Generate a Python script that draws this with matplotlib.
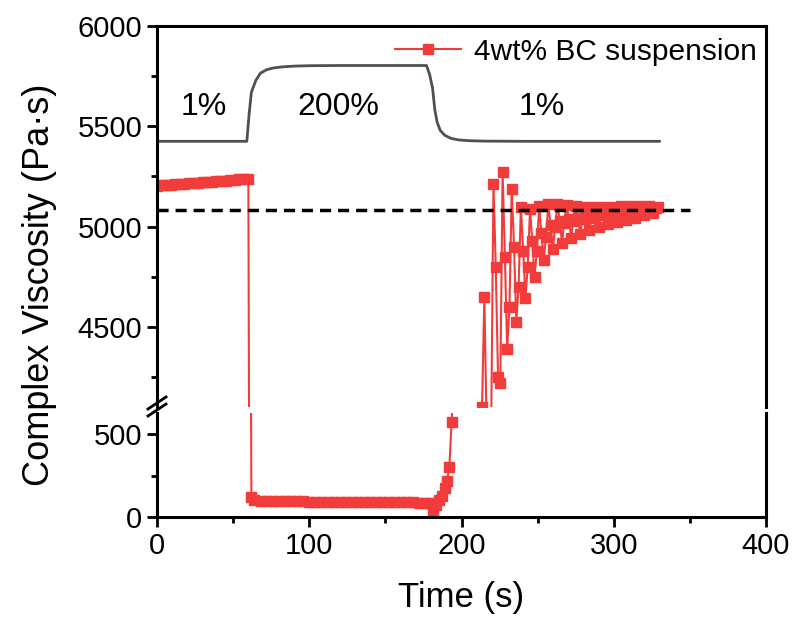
import matplotlib
matplotlib.use('Agg')
import matplotlib.pyplot as plt
from matplotlib.lines import Line2D
from matplotlib.ticker import MultipleLocator

plt.rcParams['font.family'] = ['Liberation Sans', 'DejaVu Sans']

# viscosity, 1% strain (before)
t_pre = [0, 3, 6, 9, 12, 15, 18, 21, 24, 27, 30, 33, 36, 39, 42, 45, 48, 51, 54, 57, 60]
v_pre = [5204, 5206, 5207, 5209, 5211, 5212, 5214, 5216, 5217, 5219, 5221, 5222, 5224,
         5226, 5227, 5229, 5231, 5233, 5235, 5237, 5239]

# viscosity, 200% strain
t_mid = [62, 64, 68, 72, 76, 80, 84, 88, 92, 96, 100, 104, 108, 112, 116, 120, 124, 128,
         132, 136, 140, 144, 148, 152, 156, 160, 164, 168, 172, 176, 179, 181, 183, 185,
         187, 189, 190.5, 192, 193.5]
v_mid = [120, 100, 98, 97, 96, 96, 95, 95, 94, 94, 93, 93, 93, 92, 92, 92, 91, 91,
         91, 90, 90, 90, 89, 89, 89, 88, 88, 88, 87, 87, 82, 40, 70, 100, 130, 175,
         220, 300, 575]

# viscosity, recovery at 1% strain
t_rec = [197, 200, 203, 206, 209, 212, 213.5, 215, 216.5, 218, 219.5, 221, 222.5, 224,
         225.5, 227, 228.5, 230, 231.5, 233, 234.5, 236, 237.5, 239, 240.5, 242, 243.5,
         245, 246.5, 248, 249.5, 251, 252.5, 254, 255.5, 257, 258.5, 260, 261.5, 263,
         264.5, 266, 267.5, 269, 270.5, 272, 273.5, 275, 276.5, 278, 279.5, 281, 282.5,
         284, 285.5, 287, 288.5, 290, 291.5, 293, 294.5, 296, 297.5, 299, 300.5, 302,
         303.5, 305, 306.5, 308, 309.5, 311, 312.5, 314, 315.5, 317, 318.5, 320, 321.5,
         323, 324.5, 326, 327.5, 329]
v_rec = [1200, 2400, 3300, 3800, 3500, 3700, 4100, 4650, 4000, 3400, 4000, 5210, 4800,
         4250, 4220, 5270, 4850, 4390, 4600, 5185, 4900, 4525, 4700, 5095, 4880, 4645,
         4800, 5085, 4930, 4750, 4880, 5100, 4970, 4835, 4950, 5110, 5010, 4890, 5000,
         5110, 5030, 4920, 5020, 5105, 5040, 4945, 5030, 5100, 5045, 4965, 5040, 5095,
         5050, 4985, 5045, 5095, 5055, 5000, 5055, 5095, 5060, 5015, 5060, 5095, 5070,
         5025, 5065, 5100, 5075, 5035, 5070, 5100, 5080, 5045, 5075, 5100, 5085, 5055,
         5080, 5100, 5090, 5065, 5090, 5095]

time = t_pre + t_mid + t_rec
visc = v_pre + v_mid + v_rec

# strain schematic (drawn in viscosity units)
t_strain = [0, 59, 60.5, 62, 65, 68, 72, 76, 82, 90, 100, 120, 140, 160, 177, 179, 181,
            182.5, 184, 186, 189, 193, 198, 205, 215, 240, 280, 330]
v_strain = [5425, 5425, 5560, 5670, 5730, 5765, 5782, 5790, 5796, 5800, 5802, 5803, 5803,
            5803, 5803, 5760, 5690, 5580, 5520, 5480, 5455, 5440, 5432, 5428, 5426, 5425,
            5425, 5425]

t_ref = [0, 350]
v_ref = [5080, 5080]

labels = ['1%', '200%', '1%']
label_t = [31, 119, 253]
label_v = [5595, 5595, 5595]

red = '#f23c3c'
W, H = 794, 622
fig = plt.figure(figsize=(W / 100, H / 100), dpi=100)
L, R = 157 / W, 766 / W
ax1 = fig.add_axes([L, 1 - 407 / H, R - L, (407 - 26) / H])
ax2 = fig.add_axes([L, 1 - 517 / H, R - L, (517 - 413) / H])

for ax in (ax1, ax2):
    ax.plot(time, visc, '-s', color=red, lw=1.5, ms=7.5, mec=red, mfc=red,
            label='4wt% BC suspension')
    ax.set_xlim(0, 400)
    for s in ax.spines.values():
        s.set_linewidth(2.2)
    ax.tick_params(which='both', direction='out', width=2, labelsize=21,
                   top=False, right=False)
    ax.tick_params(which='major', length=7)
    ax.tick_params(which='minor', length=4)
    ax.xaxis.set_major_locator(MultipleLocator(100))
    ax.xaxis.set_minor_locator(MultipleLocator(50))

ax1.plot(t_strain, v_strain, color='#505050', lw=2)
ax1.plot(t_ref, v_ref, color='black', lw=2.5, ls=(0, (3.2, 2)))
for txt, tx, ty in zip(labels, label_t, label_v):
    ax1.text(tx, ty, txt, fontsize=23, ha='center', va='center')

ax1.set_ylim(4100, 6000)
ax1.yaxis.set_major_locator(MultipleLocator(500))
ax1.yaxis.set_minor_locator(MultipleLocator(250))
ax1.spines['bottom'].set_visible(False)
ax1.tick_params(which='both', bottom=False, labelbottom=False)

ax2.set_ylim(0, 630)
ax2.yaxis.set_major_locator(MultipleLocator(500))
ax2.yaxis.set_minor_locator(MultipleLocator(250))
ax2.spines['top'].set_visible(False)

h, l = ax2.get_legend_handles_labels()
ax1.legend(h, l, loc='upper right', frameon=False, fontsize=21.5,
           handlelength=2.2, handletextpad=0.45, borderaxespad=0.0,
           bbox_to_anchor=(1.005, 1.0))

# axis break marks on the left spine
for dy in (0, 7):
    y0 = 1 - (416 + dy - 7) / H
    y1 = 1 - (404 + dy - 7) / H
    fig.add_artist(Line2D([148 / W, 166 / W], [y0, y1], color='black', lw=2))

fig.text(40 / W, 1 - 285 / H, 'Complex Viscosity (Pa\u00b7s)', rotation=90,
         fontsize=26, ha='center', va='center')
fig.text(461 / W, 1 - 598 / H, 'Time (s)', fontsize=25, ha='center', va='center')

fig.savefig('out.png', dpi=100)
